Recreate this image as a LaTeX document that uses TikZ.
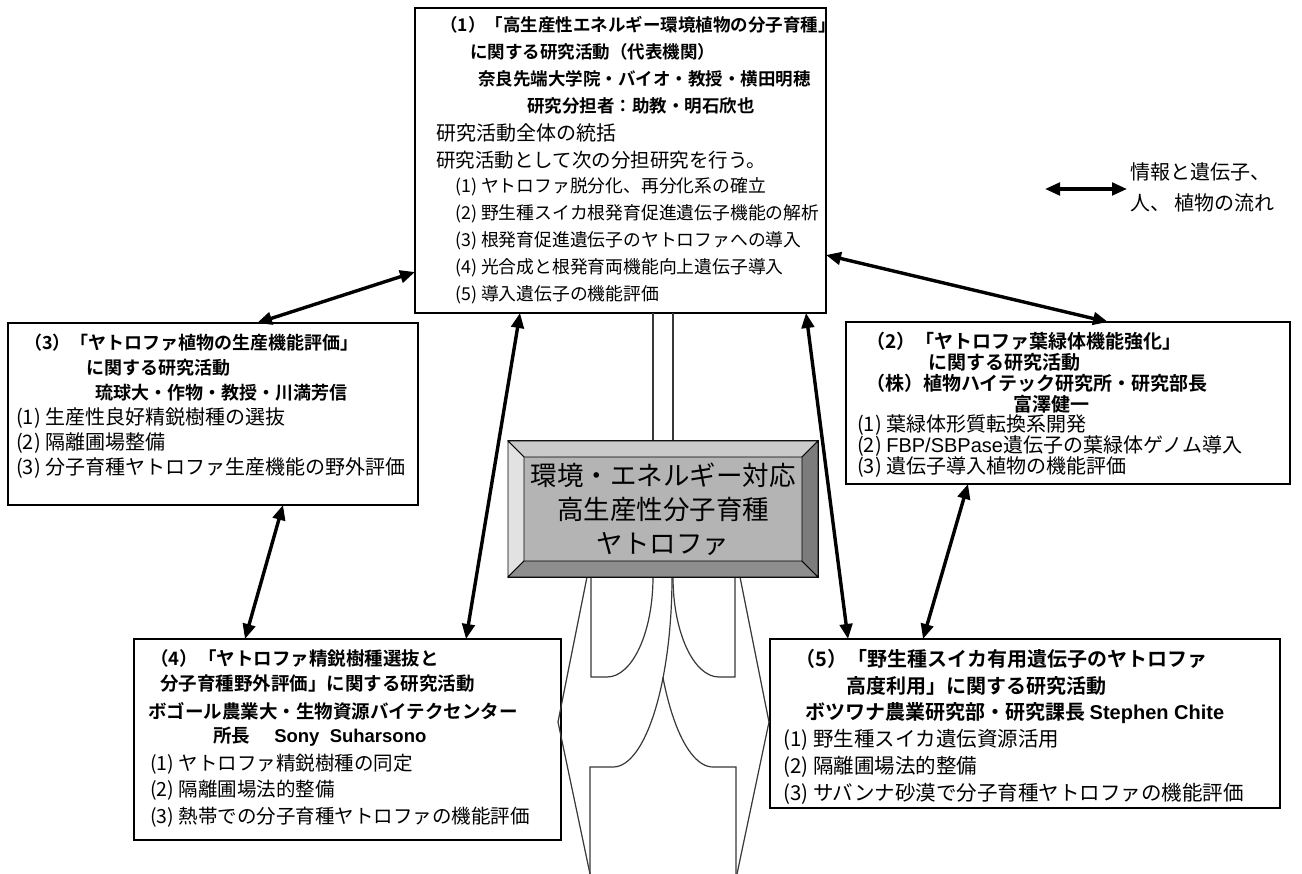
\documentclass[tikz,border=0pt]{standalone}
\usepackage{fontspec}
\setmainfont{Noto Sans CJK JP}[BoldFont={Noto Sans CJK JP Bold}]
\newfontfamily\lat{Liberation Sans}
\usetikzlibrary{arrows.meta}
\definecolor{facecol}{HTML}{B4B4B4}
\definecolor{topcol}{HTML}{CACACA}
\definecolor{leftcol}{HTML}{E2E2E2}
\definecolor{botcol}{HTML}{8E8E8E}
\definecolor{rightcol}{HTML}{7C7C7C}
\newcommand{\fs}[1]{\fontsize{#1}{#1}\selectfont}
\tikzset{
  box/.style={draw=black, line width=1.2pt, fill=white, anchor=north west, inner sep=0pt, outer sep=0pt},
  hd/.style={anchor=west, inner sep=0pt, font=\fs{19}\bfseries},
  bd/.style={anchor=west, inner sep=0pt, font=\fs{20}},
  biarrow/.style={line width=3.4pt, {Triangle[length=15pt,width=12.5pt]}-{Triangle[length=15pt,width=12.5pt]}},
  rootline/.style={line width=1.2pt, draw=black!78},
  facet/.style={draw=black, line width=0.8pt},
}
\begin{document}
\begin{tikzpicture}[x=1pt,y=-1pt]
\useasboundingbox[fill=white] (0,0) rectangle (1302,874);

% ---------- boxes ----------
\node[box, minimum width=411pt, minimum height=305pt] (b1) at (415,8) {};
\node[box, minimum width=410pt, minimum height=182pt] (b3) at (8,323) {};
\node[box, minimum width=444pt, minimum height=162pt] (b2) at (846,322) {};
\node[box, minimum width=427pt, minimum height=201pt] (b4) at (134,639) {};
\node[box, minimum width=510pt, minimum height=169pt] (b5) at (770,639) {};

% ---------- stem ----------
\draw[rootline, line width=1.6pt] (653,313) -- (653,441);
\draw[rootline] (673,313) -- (673,441);

% ---------- roots ----------
\draw[rootline] (587,577) -- (558,722) -- (590,874);
\draw[rootline] (740,577) -- (769,722) -- (737,874);
\draw[rootline] (591,577) -- (591,677) -- (607,677) .. controls (632.4,677) and (653,632.2) .. (653,577);
\draw[rootline] (735,577) -- (735,677) -- (719,677) .. controls (693.6,677) and (673,632.2) .. (673,577);
\draw[rootline] (590,874) -- (590,767) -- (613,767)
   .. controls (645.6,767) and (672,681.9) .. (672,577);
\draw[rootline] (736,874) -- (736,767) -- (713,767)
   plot[domain=0:58.2, samples=25] ({713-59*sin(\x)},{577+190*cos(\x)});

% ---------- central bevelled box ----------
\node[draw=black, line width=1pt, fill=facecol, minimum width=310pt, minimum height=136pt,
      inner sep=0pt, outer sep=0pt, align=center,
      font=\fontsize{26.5}{34}\selectfont] (core) at (663,509)
      {環境・エネルギー対応\\高生産性分子育種\\ヤトロファ};
\filldraw[facet, fill=topcol] (core.north west) -- (core.north east) -- ([shift={(-16,16)}]core.north east) -- ([shift={(16,16)}]core.north west) -- cycle;
\filldraw[facet, fill=leftcol] (core.north west) -- ([shift={(16,16)}]core.north west) -- ([shift={(16,-16)}]core.south west) -- (core.south west) -- cycle;
\filldraw[facet, fill=botcol] (core.south west) -- ([shift={(16,-16)}]core.south west) -- ([shift={(-16,-16)}]core.south east) -- (core.south east) -- cycle;
\filldraw[facet, fill=rightcol] (core.north east) -- ([shift={(-16,16)}]core.north east) -- ([shift={(-16,-16)}]core.south east) -- (core.south east) -- cycle;

% ---------- texts: box 1 ----------
\begin{scope}[hd/.append style={font=\fs{17.5}\bfseries}, bd/.append style={font=\fs{17.8}}]
\node[hd] (t1a) at (440,25) {（1）「高生産性エネルギー環境植物の分子育種」};
\node[hd] (t1b) at (470,52) {に関する研究活動（代表機関）};
\node[hd] (t1c) at (478,79) {奈良先端大学院・バイオ・教授・横田明穂};
\node[hd] (t1d) at (527,106) {研究分担者：助教・明石欣也};
\node[bd, font=\fs{20}] (t1e) at (436,133) {研究活動全体の統括};
\node[bd, font=\fs{19.5}] (t1f) at (436,160) {研究活動として次の分担研究を行う。};
\node[bd] (t1g) at (455,187) {(1) ヤトロファ脱分化、再分化系の確立};
\node[bd] (t1h) at (455,214) {(2) 野生種スイカ根発育促進遺伝子機能の解析};
\node[bd] (t1i) at (455,241) {(3) 根発育促進遺伝子のヤトロファへの導入};
\node[bd] (t1j) at (455,268) {(4) 光合成と根発育両機能向上遺伝子導入};
\node[bd] (t1k) at (455,295) {(5) 導入遺伝子の機能評価};
\end{scope}

% ---------- box 3 ----------
\begin{scope}[hd/.append style={font=\fs{18}\bfseries}]
\node[hd] (t3a) at (24,343) {（3）「ヤトロファ植物の生産機能評価」};
\node[hd] (t3b) at (86,368) {に関する研究活動};
\node[hd] (t3c) at (95,393) {琉球大・作物・教授・川満芳信};
\node[bd] (t3d) at (16,418) {(1) 生産性良好精鋭樹種の選抜};
\node[bd] (t3e) at (16,443) {(2) 隔離圃場整備};
\node[bd] (t3f) at (16,468) {(3) 分子育種ヤトロファ生産機能の野外評価};
\end{scope}

% ---------- box 2 ----------
\node[hd] (t2a) at (866,341) {（2）「ヤトロファ葉緑体機能強化」};
\node[hd] (t2b) at (928,362) {に関する研究活動};
\node[hd] (t2c) at (866,383) {（株）植物ハイテック研究所・研究部長};
\node[hd] (t2d) at (1013,404) {富澤健一};
\node[bd] (t2e) at (857,425) {(1) 葉緑体形質転換系開発};
\node[bd] (t2f) at (857,446) {(2) {\lat FBP/SBPase}遺伝子の葉緑体ゲノム導入};
\node[bd] (t2g) at (857,467) {(3) 遺伝子導入植物の機能評価};

% ---------- box 4 ----------
\begin{scope}[hd/.append style={font=\fs{18.5}\bfseries}, bd/.append style={font=\fs{19.5}}]
\node[hd] (t4a) at (150,658) {（4）「ヤトロファ精鋭樹種選抜と};
\node[hd] (t4b) at (160,684) {分子育種野外評価」に関する研究活動};
\node[hd] (t4c) at (148,711) {ボゴール農業大・生物資源バイテクセンター};
\node[hd] (t4d) at (213,737) {所長\hspace{1.3em}{\lat Sony\ \ Suharsono}};
\node[bd] (t4e) at (150,764) {(1) ヤトロファ精鋭樹種の同定};
\node[bd] (t4f) at (150,790) {(2) 隔離圃場法的整備};
\node[bd] (t4g) at (150,817) {(3) 熱帯での分子育種ヤトロファの機能評価};
\end{scope}

% ---------- box 5 ----------
\begin{scope}[hd/.append style={font=\fs{20}\bfseries}, bd/.append style={font=\fs{20.5}}]
\node[hd] (t5a) at (795,659) {（5）「野生種スイカ有用遺伝子のヤトロファ};
\node[hd] (t5b) at (846,686) {高度利用」に関する研究活動};
\node[hd] (t5c) at (805,713) {ボツワナ農業研究部・研究課長 {\lat Stephen Chite}};
\node[bd] (t5d) at (783,740) {(1) 野生種スイカ遺伝資源活用};
\node[bd] (t5e) at (783,767) {(2) 隔離圃場法的整備};
\node[bd] (t5f) at (783,794) {(3) サバンナ砂漠で分子育種ヤトロファの機能評価};
\end{scope}

% ---------- connectors ----------
\draw[biarrow] ([yshift=-264pt]b1.north west) -- ([xshift=249pt]b3.north west);
\draw[biarrow] ([yshift=-247pt]b1.north east) -- ([xshift=262pt]b2.north west);
\draw[biarrow] ([xshift=105pt]b1.south west) -- ([xshift=332pt]b4.north west);
\draw[biarrow] ([xshift=-20pt]b1.south east) -- ([xshift=78pt]b5.north west);
\draw[biarrow] ([xshift=275pt]b3.south west) -- ([xshift=111pt]b4.north west);
\draw[biarrow] ([xshift=122pt]b2.south west) -- ([xshift=153pt]b5.north west);

% ---------- legend ----------
\coordinate (lgA) at (1045,189);
\coordinate (lgB) at (1127,189);
\draw[biarrow] (lgA) -- (lgB);
\node[bd] (lg1) at (1130,172) {情報と遺伝子、};
\node[bd] (lg2) at (1130,203) {人、 植物の流れ};
\end{tikzpicture}
\end{document}
